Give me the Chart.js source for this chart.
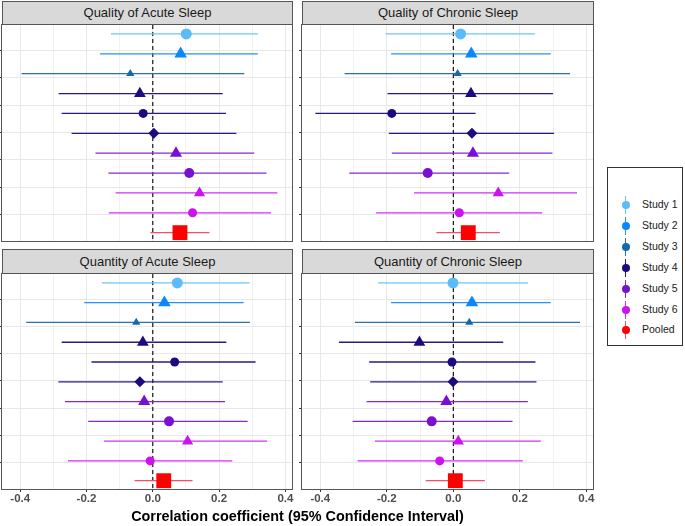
<!DOCTYPE html>
<html>
<head>
<meta charset="utf-8">
<script src="https://cdn.jsdelivr.net/npm/chart.js@4.4.1/dist/chart.umd.min.js"></script>
<style>
  body { margin: 0; background: #fff; font-family: "Liberation Sans", Arial, sans-serif; }
  #wrap { position: relative; width: 685px; height: 526px; overflow: hidden; background: #fff; }
  canvas { position: absolute; }
  .strip { position: absolute; box-sizing: border-box; background: #d9d9d9; border: 1px solid #555;
           text-align: center; font-size: 13px; color: #1a1a1a; }
  #xtitle { position: absolute; left: 0; width: 595px; top: 508px; text-align: center;
            font-weight: bold; font-size: 14.4px; color: #000; }
  #legend { position: absolute; left: 607px; top: 167px; width: 76px; height: 179px;
            box-sizing: border-box; border: 1px solid #333; background: #fff; }
  .item { position: absolute; left: 0; height: 20px; width: 74px; }
  .item .bar { position: absolute; left: 17px; top: 1px; width: 1.3px; height: 18px; }
  .item .dot { position: absolute; left: 13.5px; top: 6px; width: 8px; height: 8px; border-radius: 50%; }
  .item .lab { position: absolute; left: 34px; top: 3px; font-size: 10.5px; color: #1a1a1a; white-space: nowrap; }
</style>
</head>
<body>
<div id="wrap">
  <div class="strip" style="left:2px;top:1px;width:291px;height:24px;line-height:22px">Quality of Acute Sleep</div>
  <div class="strip" style="left:302px;top:1px;width:292px;height:24px;line-height:22px">Quality of Chronic Sleep</div>
  <div class="strip" style="left:2px;top:249px;width:291px;height:25px;line-height:23px">Quantity of Acute Sleep</div>
  <div class="strip" style="left:302px;top:249px;width:292px;height:25px;line-height:23px">Quantity of Chronic Sleep</div>
  <canvas id="qa"></canvas>
  <canvas id="qc"></canvas>
  <canvas id="na"></canvas>
  <canvas id="nc"></canvas>
  <div id="xtitle">Correlation coefficient (95% Confidence Interval)</div>
  <div id="legend"></div>
</div>
<script>
// legend entries and row -> study mapping (11 rows, top to bottom)
const legendLabels = ['Study 1', 'Study 2', 'Study 3', 'Study 4', 'Study 5', 'Study 6', 'Pooled'];
const rowStudy = [0, 1, 2, 3, 3, 3, 4, 4, 5, 5, 6];
const rowPos = [1, 2, 3, 4, 5, 6, 7, 8, 9, 10, 11];

// Quality of Acute Sleep
const qaEst = [0.101, 0.084, -0.068, -0.039, -0.029, 0.003, 0.070, 0.110, 0.141, 0.120, 0.082];
const qaLo  = [-0.126, -0.159, -0.396, -0.284, -0.275, -0.245, -0.173, -0.134, -0.112, -0.133, -0.007];
const qaHi  = [0.317, 0.317, 0.276, 0.211, 0.221, 0.252, 0.306, 0.343, 0.376, 0.357, 0.171];

// Quality of Chronic Sleep
const qcEst = [0.022, 0.054, 0.013, 0.053, -0.185, 0.056, 0.059, -0.077, 0.135, 0.018, 0.045];
const qcLo  = [-0.204, -0.187, -0.327, -0.198, -0.415, -0.194, -0.185, -0.313, -0.118, -0.232, -0.051];
const qcHi  = [0.246, 0.293, 0.351, 0.300, 0.067, 0.303, 0.298, 0.168, 0.372, 0.267, 0.140];

// Quantity of Acute Sleep
const naEst = [0.074, 0.035, -0.050, -0.030, 0.066, -0.039, -0.026, 0.049, 0.105, -0.008, 0.033];
const naLo  = [-0.154, -0.207, -0.382, -0.275, -0.185, -0.285, -0.265, -0.195, -0.147, -0.256, -0.055];
const naHi  = [0.292, 0.274, 0.293, 0.222, 0.310, 0.211, 0.218, 0.286, 0.345, 0.240, 0.120];

// Quantity of Chronic Sleep
const ncEst = [-0.001, 0.056, 0.048, -0.102, -0.004, -0.001, -0.021, -0.065, 0.015, -0.041, 0.006];
const ncLo  = [-0.226, -0.187, -0.296, -0.344, -0.253, -0.250, -0.261, -0.303, -0.236, -0.288, -0.083];
const ncHi  = [0.225, 0.293, 0.381, 0.150, 0.247, 0.250, 0.224, 0.178, 0.263, 0.209, 0.095];

// x axis ticks
const xGridVals = [-0.4, -0.3, -0.2, -0.1, 0, 0.1, 0.2, 0.3, 0.4];
const xLabelVals = [-0.4, -0.2, 0, 0.2, 0.4];
const xTickLabels = ['-0.4', '-0.2', '0.0', '0.2', '0.4'];
const hGridVals = [1, 2, 3, 4, 5, 6, 7];

// styles
const pointColors = ['#5cbcfa', '#0a88fb', '#1668ad', '#1c0b7e', '#7a0fd2', '#cc12ee', '#ff0000'];
const lineColors = ['#6cc4f8', '#2492f8', '#2872b0', '#2a1a86', '#8428d4', '#d030f0', '#f2506a'];
const rowShape = ['circle', 'triangle', 'triangle', 'triangle', 'circle', 'rectRot', 'triangle', 'circle', 'triangle', 'circle', 'rect'];
const rowSize = [5.5, 7.3, 4.8, 6.8, 4.5, 5.5, 7, 5, 6.5, 4.5, 10.5];
const FONT = '"Liberation Sans", Arial, sans-serif';
const xMin = -0.455, xMax = 0.42;
const yMin = 0.55, yMax = 11.42;

const panelBorder = {
    id: 'panelBorder',
    afterDraw(chart) {
        const a = chart.chartArea;
        const c = chart.ctx;
        c.save();
        c.strokeStyle = '#555';
        c.lineWidth = 1;
        c.strokeRect(a.left - 0.5, a.top - 0.5, a.right - a.left + 1, a.bottom - a.top + 1);
        c.restore();
    }
};

function isMajor(v) {
    return xLabelVals.some(m => Math.abs(m - v) < 1e-9);
}

function makePanel(id, est, lo, hi, box, showX) {
    const canvas = document.getElementById(id);
    const xH = showX ? 20 : 0;
    canvas.width = box.w + 23;
    canvas.height = box.h + 4 + xH;
    canvas.style.left = (box.l - 13) + 'px';
    canvas.style.top = (box.t - 2) + 'px';

    const datasets = [{
        data: est.map((v, i) => ({ x: v, y: rowPos[i] })),
        pointStyle: rowShape,
        pointRadius: rowSize,
        backgroundColor: rowStudy.map(s => pointColors[s]),
        borderWidth: 0,
        order: 0
    }];
    lo.forEach((l, i) => {
        datasets.push({
            data: [{ x: l, y: rowPos[i] }, { x: hi[i], y: rowPos[i] }],
            showLine: true,
            borderColor: lineColors[rowStudy[i]],
            borderWidth: 1.3,
            pointRadius: 0,
            order: 1
        });
    });
    // dashed reference line at zero
    datasets.push({
        data: [{ x: 0, y: yMin }, { x: 0, y: yMax }],
        showLine: true,
        borderColor: '#000',
        borderWidth: 1.1,
        borderDash: [4, 3],
        pointRadius: 0,
        order: 2
    });

    new Chart(canvas.getContext('2d'), {
        type: 'scatter',
        data: { datasets },
        options: {
            responsive: false,
            animation: false,
            events: [],
            layout: { autoPadding: false, padding: { left: 10, right: 10, top: 2, bottom: 2 } },
            plugins: { legend: { display: false }, tooltip: { enabled: false } },
            scales: {
                x: {
                    type: 'linear', min: xMin, max: xMax,
                    afterBuildTicks: s => { s.ticks = xGridVals.map(v => ({ value: v })); },
                    afterFit: s => { s.height = xH; },
                    ticks: {
                        display: showX, autoSkip: false, maxRotation: 0, padding: 0,
                        color: '#4d4d4d', font: { family: FONT, size: 11.5, weight: 'bold' },
                        callback: v => {
                            const k = xLabelVals.findIndex(m => Math.abs(m - v) < 1e-9);
                            return k >= 0 ? xTickLabels[k] : '';
                        }
                    },
                    grid: {
                        color: ctx => isMajor(ctx.tick.value) ? '#e8e8e8' : '#f1f1f1',
                        lineWidth: 1,
                        drawTicks: showX, tickLength: 3,
                        tickColor: ctx => isMajor(ctx.tick.value) ? '#333' : 'rgba(0,0,0,0)'
                    },
                    border: { display: false }
                },
                y: { type: 'linear', reverse: true, min: yMin, max: yMax, display: false },
                y2: {
                    type: 'linear', position: 'left', min: 0.04, max: 7.92,
                    afterBuildTicks: s => { s.ticks = hGridVals.map(v => ({ value: v })); },
                    afterFit: s => { s.width = 3; },
                    ticks: { display: false },
                    grid: { color: '#e8e8e8', drawTicks: true, tickLength: 3, tickColor: '#333' },
                    border: { display: false }
                }
            }
        },
        plugins: [panelBorder]
    });
}

makePanel('qa', qaEst, qaLo, qaHi, { l: 2, t: 25, w: 290, h: 216 }, false);
makePanel('qc', qcEst, qcLo, qcHi, { l: 302, t: 25, w: 291, h: 216 }, false);
makePanel('na', naEst, naLo, naHi, { l: 2, t: 274, w: 290, h: 215 }, true);
makePanel('nc', ncEst, ncLo, ncHi, { l: 302, t: 274, w: 291, h: 215 }, true);

// legend
const legend = document.getElementById('legend');
legendLabels.forEach((name, i) => {
    const item = document.createElement('div');
    item.className = 'item';
    item.style.top = (27 + i * 20.9) + 'px';
    item.innerHTML = '<div class="bar" style="background:' + lineColors[i] + '"></div>' +
        '<div class="dot" style="background:' + pointColors[i] + '"></div>' +
        '<div class="lab">' + name + '</div>';
    legend.appendChild(item);
});
</script>
</body>
</html>
